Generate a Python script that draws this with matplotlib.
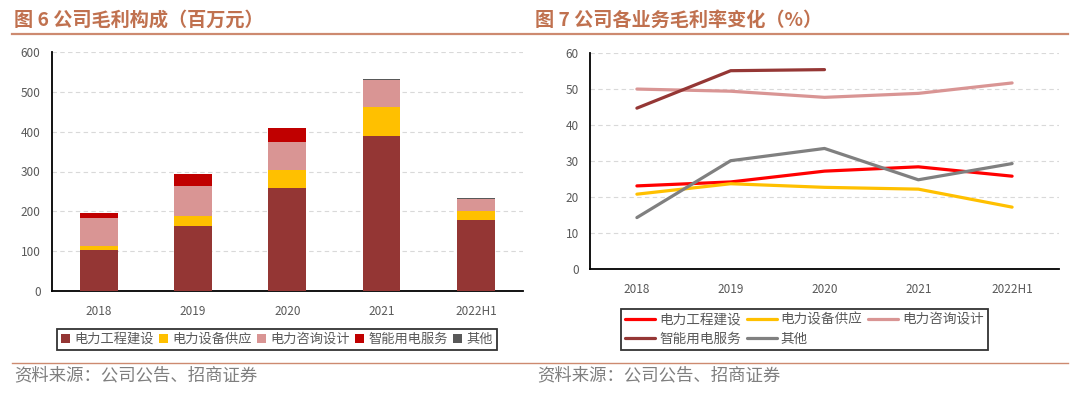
import numpy as np
import matplotlib
matplotlib.use("Agg")
import matplotlib.pyplot as plt
from matplotlib.patches import Patch
from matplotlib.lines import Line2D

plt.rcParams['font.family'] = ['Noto Sans CJK SC', 'DejaVu Sans']

# ---------------- data ----------------
categories = ['2018', '2019', '2020', '2021', '2022H1']
series_names = ['电力工程建设', '电力设备供应', '电力咨询设计', '智能用电服务', '其他']

# Figure 6: gross profit composition (million yuan)
gp_engineering = [102, 163, 258, 389, 177]
gp_equipment = [12, 25, 46, 72, 24]
gp_consulting = [70, 75, 70, 69, 30]
gp_smart = [11, 30, 36, 0, 0]
gp_other = [0, 0, 0, 2, 2]

# Figure 7: gross margin by business (%)
gm_engineering = [23.0, 24.1, 27.1, 28.3, 25.7]
gm_equipment = [20.7, 23.6, 22.6, 22.1, 17.1]
gm_consulting = [49.9, 49.3, 47.6, 48.7, 51.6]
gm_smart = [44.6, 55.0, 55.3, np.nan, np.nan]
gm_other = [14.2, 30.0, 33.4, 24.7, 29.2]

bar_colors = ['#943634', '#FFC000', '#D99594', '#C00000', '#595959']
line_colors = ['#FF0000', '#FFC000', '#D99594', '#953735', '#808080']

title_color = '#C0714F'
rule_color = '#CD8A70'
text_grey = '#595959'

fig = plt.figure(figsize=(10.8, 3.98), dpi=100)

# ---------------- titles and rules ----------------
fig.text(14 / 1080, 1 - 20 / 398, '图 6 公司毛利构成（百万元）', fontsize=13.8,
         fontweight='bold', color=title_color, va='center', ha='left')
fig.text(535 / 1080, 1 - 20 / 398, '图 7 公司各业务毛利率变化（%）', fontsize=13.8,
         fontweight='bold', color=title_color, va='center', ha='left')
fig.add_artist(Line2D([12 / 1080, 1068 / 1080], [1 - 33.5 / 398, 1 - 33.5 / 398],
                      color=rule_color, lw=1.6))
fig.add_artist(Line2D([12 / 1080, 1068 / 1080], [1 - 362.5 / 398, 1 - 362.5 / 398],
                      color=rule_color, lw=1.0))
fig.text(14 / 1080, 1 - 375 / 398, '资料来源：公司公告、招商证券', fontsize=12.5,
         color='#7F7F7F', va='center', ha='left')
fig.text(537 / 1080, 1 - 375 / 398, '资料来源：公司公告、招商证券', fontsize=12.5,
         color='#7F7F7F', va='center', ha='left')

# ---------------- left: stacked bars ----------------
ax1 = fig.add_axes([51.7 / 1080, 1 - 291 / 398, (523 - 51.7) / 1080, (291 - 52) / 398])
x = np.arange(len(categories))
stack = [gp_engineering, gp_equipment, gp_consulting, gp_smart, gp_other]
bottom = np.zeros(len(categories))
for vals, c, name in zip(stack, bar_colors, series_names):
    ax1.bar(x, vals, width=0.4, bottom=bottom, color=c, label=name, zorder=3)
    bottom += np.array(vals, dtype=float)
ax1.set_xlim(-0.5, 4.5)
ax1.set_ylim(0, 600)
ax1.set_yticks(range(0, 601, 100))
ax1.set_xticks(x)
ax1.set_xticklabels(categories)

# ---------------- right: lines ----------------
ax2 = fig.add_axes([590 / 1080, 1 - 268.7 / 398, (1059 - 590) / 1080, (268.7 - 52.7) / 398])
lines_data = [gm_engineering, gm_equipment, gm_consulting, gm_smart, gm_other]
handles = []
for vals, c, name in zip(lines_data, line_colors, series_names):
    h, = ax2.plot(x, vals, color=c, lw=2.3, label=name, zorder=3,
                  solid_capstyle='round')
    handles.append(h)
ax2.set_xlim(-0.5, 4.5)
ax2.set_ylim(0, 60)
ax2.set_yticks(range(0, 61, 10))
ax2.set_xticks(x)
ax2.set_xticklabels(categories)

for ax in (ax1, ax2):
    for s in ('top', 'right'):
        ax.spines[s].set_visible(False)
    for s in ('left', 'bottom'):
        ax.spines[s].set_color('black')
        ax.spines[s].set_linewidth(1.3)
    ax.grid(axis='y', color='#D9D9D9', linestyle=(0, (4, 3)), lw=0.8, zorder=0)
    ax.tick_params(axis='both', length=0, labelsize=8.5, colors=text_grey)
    ax.tick_params(axis='x', pad=10)
    ax.tick_params(axis='y', pad=8)

# ---------------- legends ----------------
patch_handles = [Patch(facecolor=c, edgecolor='none') for c in bar_colors]
leg1 = fig.legend(patch_handles, series_names, loc='center',
                  bbox_to_anchor=(277 / 1080, 1 - 339.4 / 398), ncol=5,
                  fontsize=9.5, frameon=True, fancybox=False, edgecolor='black',
                  handlelength=0.7, handleheight=0.7, handletextpad=0.3,
                  columnspacing=0.4, borderpad=0.3, labelcolor=text_grey)
leg1.get_frame().set_linewidth(1.3)

order = [0, 3, 1, 4, 2]
leg2 = fig.legend([handles[i] for i in order], [series_names[i] for i in order],
                  loc='center', bbox_to_anchor=(804.5 / 1080, 1 - 329.4 / 398),
                  ncol=3, fontsize=9.8, frameon=True, fancybox=False,
                  edgecolor='black', handlelength=2.2, handletextpad=0.3,
                  columnspacing=0.4, borderpad=0.3, labelspacing=0.4,
                  labelcolor=text_grey)
leg2.get_frame().set_linewidth(1.3)

fig.savefig('out.png', dpi=100, facecolor='white')
